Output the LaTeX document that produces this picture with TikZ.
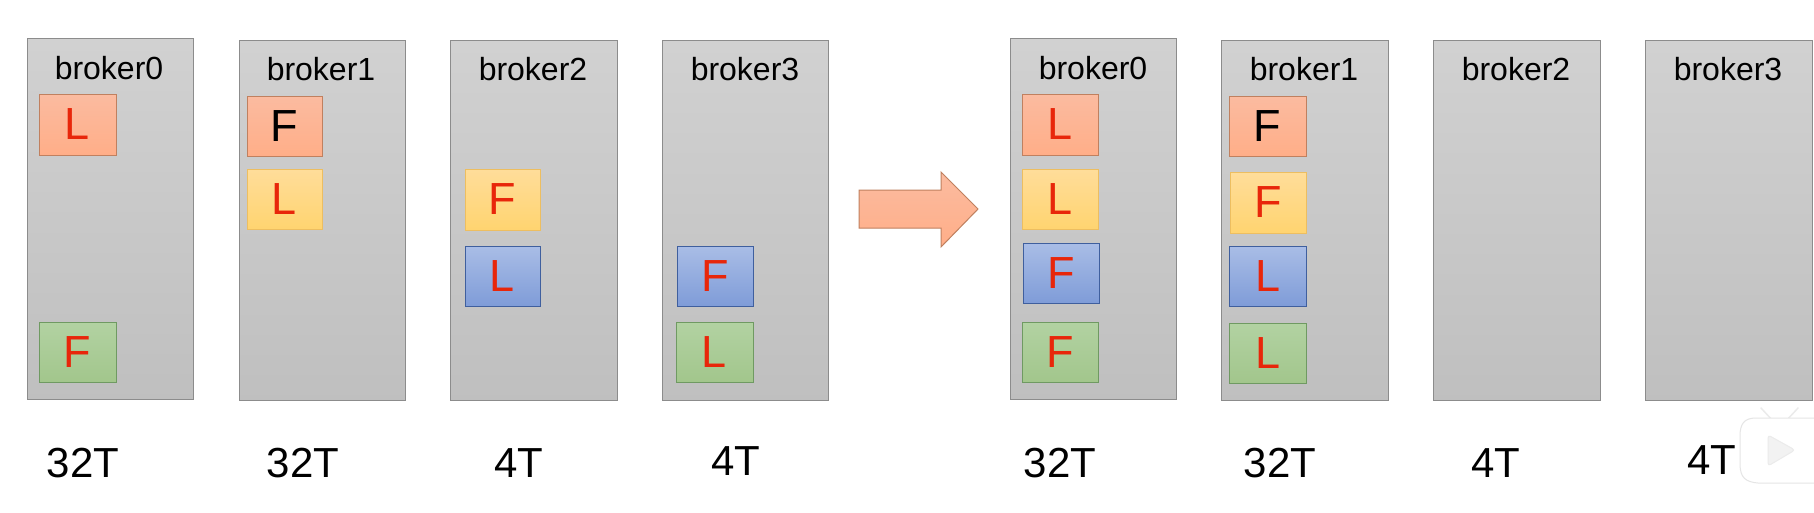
\documentclass[tikz,border=0pt]{standalone}
\usepackage{fontspec}
\setmainfont{Liberation Sans}
\definecolor{redtop}{HTML}{FBBBA0}\definecolor{redbot}{HTML}{FFAE88}\definecolor{redline}{HTML}{C0805F}
\definecolor{yeltop}{HTML}{FFDD9A}\definecolor{yelbot}{HTML}{FFD470}\definecolor{yelline}{HTML}{EDBE60}
\definecolor{blutop}{HTML}{A9BDE6}\definecolor{blubot}{HTML}{7F9CD8}\definecolor{bluline}{HTML}{3F5F9E}
\definecolor{grntop}{HTML}{B2D2A2}\definecolor{grnbot}{HTML}{A2C68C}\definecolor{grnline}{HTML}{6F9A62}
\definecolor{lettered}{HTML}{E8260A}
\newcommand{\panelbox}[5]{\node[panelstyle, minimum width={(#4-#2)*1pt}, minimum height={(#5-#3)*1pt}] (#1) at ({(#2+#4)/2},{-(#3+#5)/2}) {};}
\newcommand{\slot}[8]{\node[#6, minimum width={(#4-#2)*1pt}, minimum height={(#5-#3)*1pt}] (#1) at ({(#2+#4)/2},{-(#3+#5)/2}) {}; \node[letterlabel, text=#7] (#1t) at (#1) {#8};}
\tikzset{
  panelstyle/.style={draw=black!45, line width=1pt, inner sep=0pt, top color=black!18, bottom color=black!25},
  slotstyle/.style={line width=1pt, inner sep=0pt},
  redbox/.style={slotstyle, draw=redline, top color=redtop, bottom color=redbot},
  yelbox/.style={slotstyle, draw=yelline, top color=yeltop, bottom color=yelbot},
  blubox/.style={slotstyle, draw=bluline, top color=blutop, bottom color=blubot},
  grnbox/.style={slotstyle, draw=grnline, top color=grntop, bottom color=grnbot},
  brokerlabel/.style={inner sep=0pt, font=\fontsize{32}{32}\selectfont, text=black},
  sizelabel/.style={inner sep=0pt, font=\fontsize{42}{42}\selectfont, text=black},
  letterlabel/.style={inner sep=0pt, font=\fontsize{45}{45}\selectfont},
}
\begin{document}
\begin{tikzpicture}[x=1pt,y=1pt]
\useasboundingbox (0,0) rectangle (1814,-512);
\fill[white] (0,0) rectangle (1814,-512);
% left panels
\panelbox{pa}{27}{38}{193}{399}
\panelbox{pb}{239}{40}{405}{400}
\panelbox{pc}{450}{40}{617}{400}
\panelbox{pd}{662}{40}{828}{400}
% right panels
\panelbox{qa}{1010}{38}{1176}{399}
\panelbox{qb}{1221}{40}{1388}{400}
\panelbox{qc}{1433}{40}{1600}{400}
\panelbox{qd}{1645}{40}{1812}{400}
% broker titles
\node[brokerlabel] (ta) at (109,-68) {broker0};
\node[brokerlabel] (tb) at (321,-69) {broker1};
\node[brokerlabel] (tc) at (533,-69) {broker2};
\node[brokerlabel] (td) at (745,-69) {broker3};
\node[brokerlabel] (ua) at (1093,-68) {broker0};
\node[brokerlabel] (ub) at (1304,-69) {broker1};
\node[brokerlabel] (uc) at (1516,-69) {broker2};
\node[brokerlabel] (ud) at (1728,-69) {broker3};
% left slots
\slot{a1}{39}{94}{116}{155}{redbox}{lettered}{L}
\slot{a2}{39}{322}{116}{382}{grnbox}{lettered}{F}
\slot{b1}{247}{96}{322}{156}{redbox}{black}{F}
\slot{b2}{247}{169}{322}{229}{yelbox}{lettered}{L}
\slot{c1}{465}{169}{540}{230}{yelbox}{lettered}{F}
\slot{c2}{465}{246}{540}{306}{blubox}{lettered}{L}
\slot{d1}{677}{246}{753}{306}{blubox}{lettered}{F}
\slot{d2}{676}{322}{753}{382}{grnbox}{lettered}{L}
% right slots
\slot{e1}{1022}{94}{1098}{155}{redbox}{lettered}{L}
\slot{e2}{1022}{169}{1098}{229}{yelbox}{lettered}{L}
\slot{e3}{1023}{243}{1099}{303}{blubox}{lettered}{F}
\slot{e4}{1022}{322}{1098}{382}{grnbox}{lettered}{F}
\slot{f1}{1229}{96}{1306}{156}{redbox}{black}{F}
\slot{f2}{1230}{172}{1306}{233}{yelbox}{lettered}{F}
\slot{f3}{1229}{246}{1306}{306}{blubox}{lettered}{L}
\slot{f4}{1229}{323}{1306}{383}{grnbox}{lettered}{L}
% block arrow
\path[draw=redline, line width=1pt, top color=redtop, bottom color=redbot]
  (859,-190) -- (941,-190) -- (941,-172) -- (978,-209) -- (941,-247) -- (941,-228) -- (859,-228) -- cycle;
% sizes
\node[sizelabel] (sa) at (83,-463) {32T};
\node[sizelabel] (sb) at (303,-463) {32T};
\node[sizelabel] (sc) at (519,-463) {4T};
\node[sizelabel] (sd) at (736,-461) {4T};
\node[sizelabel] (se) at (1060,-463) {32T};
\node[sizelabel] (sf) at (1280,-463) {32T};
\node[sizelabel] (sg) at (1496,-463) {4T};
\node[sizelabel] (sh) at (1712,-460) {4T};
% watermark play icon
\path[draw=black!8, line width=1.5pt, line cap=round] (1761,-408) -- (1773,-421) (1798,-408) -- (1786,-421);
\path[fill=white, draw=black!10, line width=1pt] (1814,-418) -- (1756,-418) .. controls (1744,-418) and (1740,-424) .. (1740,-436) -- (1740,-464) .. controls (1740,-478) and (1746,-482) .. (1758,-483) -- (1814,-483);
\path[fill=black!5, draw=black!8, line width=1pt, rounded corners=3pt] (1768,-435) -- (1795,-450) -- (1768,-466) -- cycle;
\end{tikzpicture}
\end{document}
